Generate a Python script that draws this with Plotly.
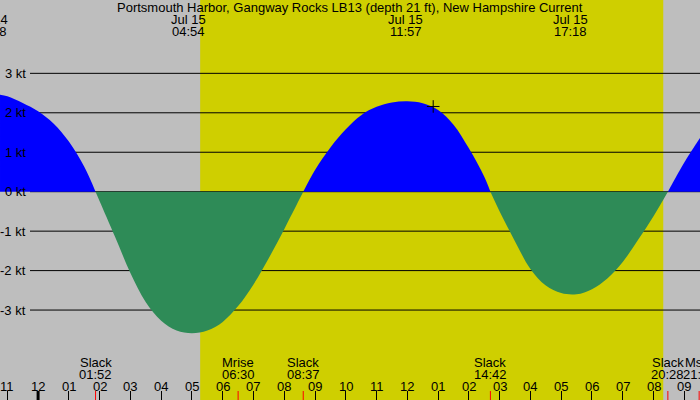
import plotly.graph_objects as go

# ---------------- data ----------------
TITLE = "Portsmouth Harbor, Gangway Rocks LB13 (depth 21 ft), New Hampshire Current"

# current curve, split at slack water (hours from midnight Jul 15, knots)
flood1_h = [-1.238, -1.0, -0.5, 0.0, 0.5, 1.0, 1.5, 1.867]
flood1_kt = [2.46, 2.42, 2.25, 2.04, 1.73, 1.27, 0.63, 0.0]

ebb1_h = [1.867, 2.0, 2.5, 3.0, 3.5, 4.0, 4.5, 5.0, 5.5, 6.0, 6.5, 7.0, 7.5, 8.0, 8.5, 8.617]
ebb1_kt = [0.0, -0.24, -1.14, -2.06, -2.80, -3.27, -3.52, -3.59, -3.52, -3.30, -2.90, -2.35, -1.68, -0.95, -0.18, 0.0]

flood2_h = [8.617, 9.0, 9.5, 10.0, 10.5, 11.0, 11.5, 12.0, 12.5, 13.0, 13.5, 14.0, 14.5, 14.70]
flood2_kt = [0.0, 0.55, 1.12, 1.58, 1.94, 2.15, 2.26, 2.29, 2.24, 2.07, 1.70, 1.10, 0.38, 0.0]

ebb2_h = [14.70, 15.0, 15.5, 16.0, 16.5, 17.0, 17.5, 18.0, 18.5, 19.0, 19.5, 20.0, 20.467]
ebb2_kt = [0.0, -0.50, -1.26, -1.96, -2.38, -2.57, -2.60, -2.47, -2.20, -1.78, -1.22, -0.62, 0.0]

flood3_h = [20.467, 21.0, 21.51]
flood3_kt = [0.0, 0.74, 1.36]

now_h = [12.84]
now_kt = [2.16]

kt_levels = [3, 2, 1, 0, -1, -2, -3]
kt_labels = ["3 kt", "2 kt", "1 kt", "0 kt", "-1 kt", "-2 kt", "-3 kt"]

hour_ticks = list(range(-1, 22))
hour_labels = ["11", "12", "01", "02", "03", "04", "05", "06", "07", "08", "09", "10",
               "11", "12", "01", "02", "03", "04", "05", "06", "07", "08", "09"]

# top labels (max current): day offset, date text, time
top_days = [-1, 0, 0, 0]
top_dates = ["Jul 14", "Jul 15", "Jul 15", "Jul 15"]
top_times = ["22:28", "04:54", "11:57", "17:18"]

# bottom labels (slack water, moon events)
bot_names = ["Slack", "Mrise", "Slack", "Slack", "Slack", "Mset"]
bot_times = ["01:52", "06:30", "08:37", "14:42", "20:28", "21:29"]

day_start = "05:16"
day_end = "20:19"

# ---------------- helpers ----------------
def hrs(t, day=0):
    hh, mm = t.split(":")
    return int(hh) + int(mm) / 60 + 24 * day

X_RANGE = [-1.2382, 21.511]
Y_RANGE = [-5.280, 4.859]
W, H = 700, 400
FONT = "Liberation Sans, Arial, sans-serif"
BG = "#BEBEBE"
DAY = "#CFCF00"
BLUE = "#0000FF"
GREEN = "#2E8B57"

def py(pix):
    """paper y from pixel row (top = 0)"""
    return 1 - pix / H

def px(h):
    """paper x from an hour value, via the x-axis range"""
    return (h - X_RANGE[0]) / (X_RANGE[1] - X_RANGE[0])

fig = go.Figure()

segments = [(flood1_h, flood1_kt, BLUE), (ebb1_h, ebb1_kt, GREEN),
            (flood2_h, flood2_kt, BLUE), (ebb2_h, ebb2_kt, GREEN),
            (flood3_h, flood3_kt, BLUE)]
for xs, ys, col in segments:
    fig.add_trace(go.Scatter(x=xs, y=ys, mode="lines", fill="tozeroy",
                             fillcolor=col, line=dict(width=0, color=col, shape="spline", smoothing=1.0),
                             hoverinfo="skip", showlegend=False))

fig.add_trace(go.Scatter(x=now_h, y=now_kt, mode="markers",
                         marker=dict(symbol="cross-thin", size=9, line=dict(width=1, color="black")),
                         hoverinfo="skip", showlegend=False))

shapes = []
# daylight band
shapes.append(dict(type="rect", xref="x", yref="paper", x0=hrs(day_start), x1=hrs(day_end),
                   y0=0, y1=1, fillcolor=DAY, line=dict(width=0), layer="below"))
# horizontal level lines
for lv in kt_levels:
    shapes.append(dict(type="line", xref="paper", yref="y", x0=30 / W, x1=1, y0=lv, y1=lv,
                       line=dict(color="black", width=1), layer="between"))
# midnight thick tick
shapes.append(dict(type="line", xref="x", yref="paper", x0=0, x1=0, y0=0, y1=9 / H,
                   line=dict(color="black", width=3), layer="above"))
# red event ticks
for t in bot_times:
    shapes.append(dict(type="line", xref="x", yref="paper", x0=hrs(t), x1=hrs(t), y0=0, y1=9 / H,
                       line=dict(color="red", width=1), layer="above"))

ann = []
fnt = dict(family=FONT, size=13, color="black")
ann.append(dict(text=TITLE, xref="paper", yref="paper", x=0.5, y=py(7.5), showarrow=False,
                font=fnt, xanchor="center", yanchor="middle"))
for d, ds, ts in zip(top_days, top_dates, top_times):
    x = px(hrs(ts, d))
    ann.append(dict(text=ds, xref="paper", yref="paper", x=x, y=py(19.5), showarrow=False, font=fnt,
                    xanchor="center", yanchor="middle"))
    ann.append(dict(text=ts, xref="paper", yref="paper", x=x, y=py(31.5), showarrow=False, font=fnt,
                    xanchor="center", yanchor="middle"))
for nm, ts in zip(bot_names, bot_times):
    x = px(hrs(ts))
    ann.append(dict(text=nm, xref="paper", yref="paper", x=x, y=py(362), showarrow=False, font=fnt,
                    xanchor="center", yanchor="middle"))
    ann.append(dict(text=ts, xref="paper", yref="paper", x=x, y=py(374), showarrow=False, font=fnt,
                    xanchor="center", yanchor="middle"))
for hv, hl in zip(hour_ticks, hour_labels):
    ann.append(dict(text=hl, xref="paper", yref="paper", x=px(hv), y=py(386), showarrow=False, font=fnt,
                    xanchor="center", yanchor="middle"))
for lv, lb in zip(kt_levels, kt_labels):
    ann.append(dict(text=lb, xref="paper", yref="y", x=28 / W, y=lv, showarrow=False, font=fnt,
                    xanchor="right", yanchor="middle"))

fig.update_layout(
    width=W, height=H, margin=dict(l=0, r=0, t=0, b=0),
    paper_bgcolor=BG, plot_bgcolor=BG, showlegend=False, hovermode=False,
    shapes=shapes, annotations=ann,
    xaxis=dict(range=X_RANGE, showgrid=False, zeroline=False, showline=False,
               tickvals=hour_ticks, ticks="inside", ticklen=9, tickwidth=1, tickcolor="black",
               showticklabels=False, fixedrange=True),
    yaxis=dict(range=Y_RANGE, showgrid=False, zeroline=False, showline=False,
               showticklabels=False, ticks="", fixedrange=True),
)

fig.write_html("out.html", config={"displayModeBar": False})
